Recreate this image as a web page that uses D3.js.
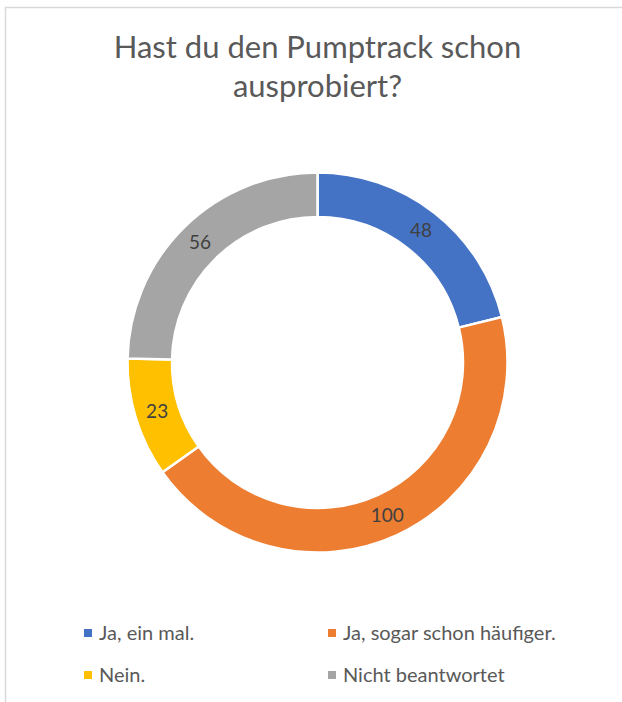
<!DOCTYPE html>
<html>
<head>
<meta charset="utf-8">
<script src="https://cdn.jsdelivr.net/npm/d3@7"></script>
<style>
  html, body { margin: 0; padding: 0; background: #fff; }
  svg { display: block; font-family: Lato, "Open Sans", sans-serif; }
</style>
</head>
<body>
<svg id="chart"></svg>
<script>
const WIDTH = 622;
const HEIGHT = 702;

const titleLines = ['Hast du den Pumptrack schon', 'ausprobiert?'];
const categories = ['Ja, ein mal.', 'Ja, sogar schon häufiger.', 'Nein.', 'Nicht beantwortet'];
const values = [48, 100, 23, 56];
const colors = ['#4472C4', '#ED7D31', '#FFC000', '#A5A5A5'];

const cx = 317.5;
const cy = 362.5;
const outerR = 190;
const innerR = 145.5;

const svg = d3.select('#chart')
  .attr('width', WIDTH)
  .attr('height', HEIGHT);

// chart area frame (right and bottom edges fall outside the picture)
svg.append('rect')
  .attr('x', 5.5)
  .attr('y', 7.5)
  .attr('width', WIDTH + 10)
  .attr('height', HEIGHT + 10)
  .attr('fill', 'none')
  .attr('stroke', '#d9d9d9')
  .attr('stroke-width', 1.5);

svg.append('text')
  .attr('text-anchor', 'middle')
  .attr('fill', '#595959')
  .style('font-size', '31px')
  .selectAll('tspan')
  .data(titleLines)
  .enter()
  .append('tspan')
  .attr('x', cx)
  .attr('y', (d, i) => 58 + i * 39)
  .text(d => d);

const data = categories.map((c, i) => ({ name: c, value: values[i], color: colors[i] }));

const pie = d3.pie()
  .value(d => d.value)
  .sort(null);

const arc = d3.arc()
  .innerRadius(innerR)
  .outerRadius(outerR);

const g = svg.append('g')
  .attr('transform', `translate(${cx}, ${cy})`);

const arcs = pie(data);

g.selectAll('path')
  .data(arcs)
  .enter()
  .append('path')
  .attr('d', arc)
  .attr('fill', d => d.data.color)
  .attr('stroke', '#fff')
  .attr('stroke-width', 2.5);

g.selectAll('text.label')
  .data(arcs)
  .enter()
  .append('text')
  .attr('class', 'label')
  .attr('transform', d => `translate(${arc.centroid(d)})`)
  .attr('text-anchor', 'middle')
  .attr('dy', '0.35em')
  .attr('fill', '#404040')
  .style('font-size', '19px')
  .text(d => d.data.value);

// legend, two columns
const legendX = [84, 328];
const legendY = [633, 675];

const legend = svg.append('g')
  .selectAll('g')
  .data(data)
  .enter()
  .append('g')
  .attr('transform', (d, i) => `translate(${legendX[i % 2]}, ${legendY[Math.floor(i / 2)]})`);

legend.append('rect')
  .attr('x', 0)
  .attr('y', -4)
  .attr('width', 8)
  .attr('height', 8)
  .attr('fill', d => d.color);

legend.append('text')
  .attr('x', 15)
  .attr('dy', '0.35em')
  .attr('fill', '#595959')
  .style('font-size', '20px')
  .text(d => d.name);
</script>
</body>
</html>
